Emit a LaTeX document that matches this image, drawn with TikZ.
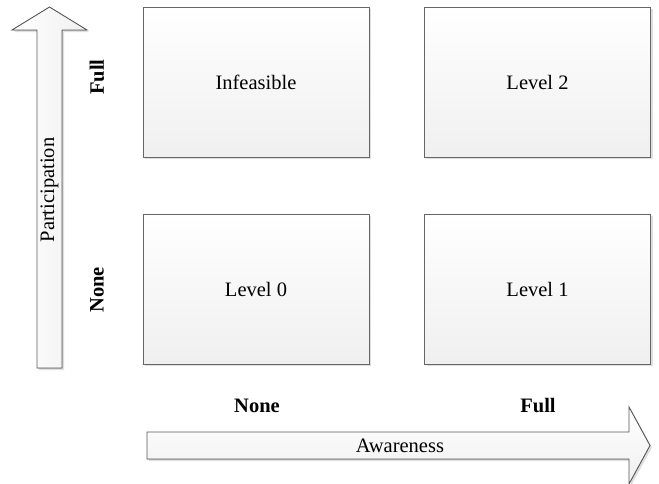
\documentclass[tikz,border=0pt]{standalone}
\usepackage{fontspec}
\setmainfont{Liberation Serif}
\usetikzlibrary{shadows,positioning}

\begin{document}
\begin{tikzpicture}[x=1pt, y=-1pt, every node/.style={font=\fontsize{20.5}{24}\selectfont}]
    \useasboundingbox (0,0) rectangle (659,483);
    \tikzset{cell/.style={draw=black!60, line width=1pt, top color=white, bottom color=black!6, minimum width=226pt, minimum height=150pt, drop shadow={opacity=0.25, shadow xshift=2pt, shadow yshift=-2pt}}}
    \tikzset{axisarrow/.style={draw=black!65, line width=0.9pt, drop shadow={opacity=0.25, shadow xshift=2pt, shadow yshift=-2pt}}}

    % Participation arrow
    \filldraw[axisarrow, left color=white, right color=black!6] (37,368) -- (37,30) -- (12,30) -- (49.5,7) -- (87,30) -- (62,30) -- (62,368) -- cycle;
    \node[rotate=90] (participation) at (49.5,190) {Participation};

    % Awareness arrow
    \filldraw[axisarrow, top color=white, bottom color=black!6] (147,432) -- (629,432) -- (629,407) -- (650,445.5) -- (629,484) -- (629,459) -- (147,459) -- cycle;
    \node (awareness) at (400,446) {Awareness};

    % Cells
    \node[cell] (infeasible) at (256,82) {Infeasible};
    \node[cell] (level2) at (537.5,82) {Level 2};
    \node[cell] (level0) at (256,289) {Level 0};
    \node[cell] (level1) at (537.5,289) {Level 1};

    % Participation levels
    \node[rotate=90, font=\fontsize{20.5}{24}\selectfont\bfseries] (part-full) at (97,77) {Full};
    \node[rotate=90, font=\fontsize{20.5}{24}\selectfont\bfseries] (part-none) at (97,290) {None};

    % Awareness levels
    \node[font=\fontsize{20.5}{24}\selectfont\bfseries] (aware-none) at (257,406) {None};
    \node[font=\fontsize{20.5}{24}\selectfont\bfseries] (aware-full) at (538,406) {Full};
\end{tikzpicture}
\end{document}
